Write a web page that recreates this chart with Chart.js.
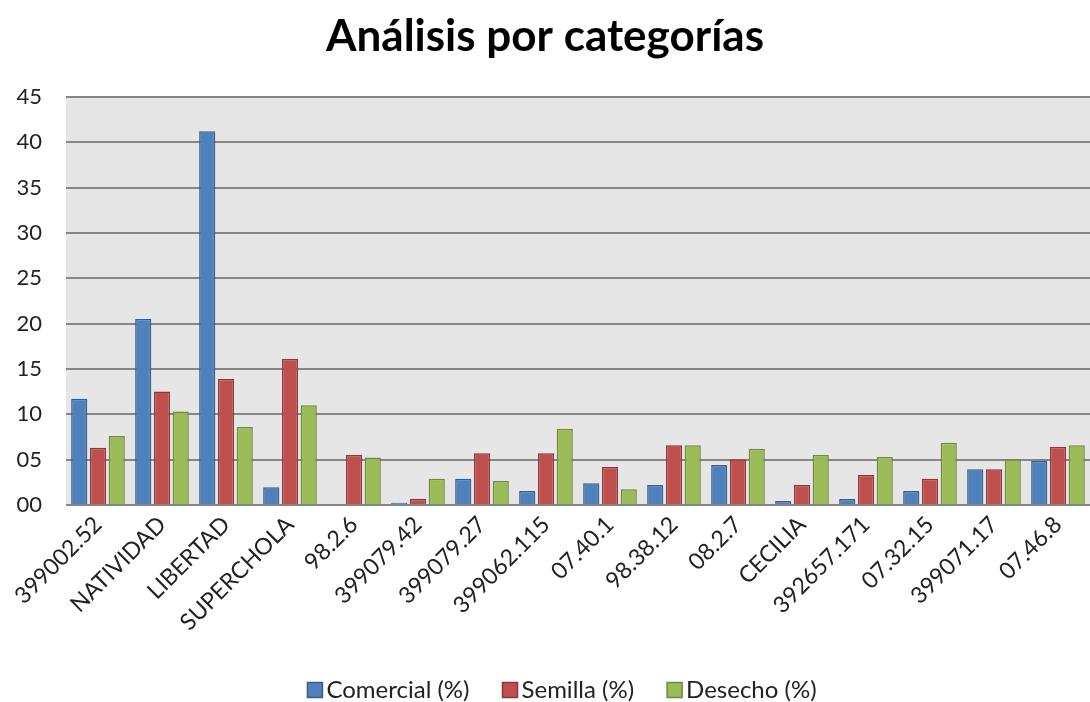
<!DOCTYPE html>
<html>
<head>
<meta charset="utf-8">
<script src="https://cdn.jsdelivr.net/npm/chart.js@4"></script>
<style>
  html, body { margin: 0; padding: 0; background: #fff; }
  #wrap { width: 1090px; height: 702px; }
</style>
</head>
<body>
<div id="wrap"><canvas id="chart"></canvas></div>
<script>
// categorías del eje x
const categories = ['399002.52', 'NATIVIDAD', 'LIBERTAD', 'SUPERCHOLA', '98.2.6', '399079.42',
  '399079.27', '399062.115', '07.40.1', '98.38.12', '08.2.7', 'CECILIA', '392657.171',
  '07.32.15', '399071.17', '07.46.8'];

// valores
const comercial = [11.7, 20.5, 41.2, 1.95, 0, 0.25, 2.9, 1.55, 2.4, 2.2, 4.4, 0.45, 0.65, 1.55, 3.95, 4.85];
const semilla = [6.3, 12.5, 13.9, 16.1, 5.5, 0.7, 5.7, 5.7, 4.2, 6.6, 5.05, 2.2, 3.3, 2.9, 3.95, 6.4];
const desecho = [7.6, 10.3, 8.6, 11.0, 5.25, 2.9, 2.65, 8.4, 1.75, 6.6, 6.2, 5.5, 5.3, 6.85, 5.05, 6.6];

const seriesNames = ['Comercial (%)', 'Semilla (%)', 'Desecho (%)'];
const yTicks = [0, 5, 10, 15, 20, 25, 30, 35, 40, 45];

const FONT = 'Lato, "Open Sans", sans-serif';

// fondo gris del área de trazado
const plotBackground = {
  id: 'plotBackground',
  beforeDraw(chart) {
    const { ctx, chartArea } = chart;
    ctx.save();
    ctx.fillStyle = '#e6e6e6';
    ctx.fillRect(chartArea.left, chartArea.top, chartArea.right - chartArea.left, chartArea.bottom - chartArea.top);
    ctx.restore();
  }
};

// leyenda inferior dibujada a mano (el espaciado de Chart.js no coincide)
const bottomLegend = {
  id: 'bottomLegend',
  afterDraw(chart) {
    const ctx = chart.ctx;
    const box = 15, gapText = 4, gapItem = 33;
    const centerX = 562, centerY = 690;
    ctx.save();
    ctx.font = '24px ' + FONT;
    ctx.textBaseline = 'middle';
    const items = chart.data.datasets.map(ds => ({
      ds, w: box + gapText + ctx.measureText(ds.label).width
    }));
    const total = items.reduce((s, it) => s + it.w, 0) + gapItem * (items.length - 1);
    let x = centerX - total / 2;
    items.forEach(it => {
      ctx.fillStyle = it.ds.backgroundColor;
      ctx.fillRect(x, centerY - box / 2, box, box);
      ctx.strokeStyle = it.ds.borderColor;
      ctx.lineWidth = 1.5;
      ctx.strokeRect(x, centerY - box / 2, box, box);
      ctx.fillStyle = '#222';
      ctx.fillText(it.ds.label, x + box + gapText, centerY);
      x += it.w + gapItem;
    });
    ctx.restore();
  }
};

const barStyle = (bg, border) => ({
  backgroundColor: bg,
  borderColor: border,
  borderWidth: 1.5,
  categoryPercentage: 0.88,
  barPercentage: 0.86
});

new Chart(document.getElementById('chart'), {
  type: 'bar',
  data: {
    labels: categories,
    datasets: [
      { label: seriesNames[0], data: comercial, ...barStyle('#4f81bd', '#385d8a') },
      { label: seriesNames[1], data: semilla, ...barStyle('#c0504d', '#8c3836') },
      { label: seriesNames[2], data: desecho, ...barStyle('#9bbb59', '#71893f') }
    ]
  },
  options: {
    responsive: true,
    maintainAspectRatio: false,
    animation: false,
    layout: { padding: { left: 0, right: 0, top: 0, bottom: 50 } },
    scales: {
      x: {
        grid: { display: false, drawTicks: false },
        border: { display: false },
        ticks: {
          color: '#222',
          font: { family: FONT, size: 23 },
          maxRotation: 45,
          minRotation: 45,
          autoSkip: false,
          padding: 6
        },
        afterFit(scale) { scale.height = 147; }
      },
      y: {
        min: 0,
        max: 45,
        afterBuildTicks(scale) { scale.ticks = yTicks.map(v => ({ value: v })); },
        grid: { color: '#868686', lineWidth: 2, drawTicks: false },
        border: { display: false },
        ticks: {
          color: '#222',
          font: { family: FONT, size: 22 },
          padding: 24,
          callback: v => String(v).padStart(2, '0')
        },
        afterFit(scale) { scale.width = 66; }
      }
    },
    plugins: {
      title: {
        display: true,
        text: 'Análisis por categorías',
        color: '#000',
        font: { family: FONT, size: 44, weight: 'bold' },
        padding: { top: 10, bottom: 34 }
      },
      legend: { display: false },
      tooltip: { enabled: false }
    }
  },
  plugins: [plotBackground, bottomLegend]
});
</script>
</body>
</html>
